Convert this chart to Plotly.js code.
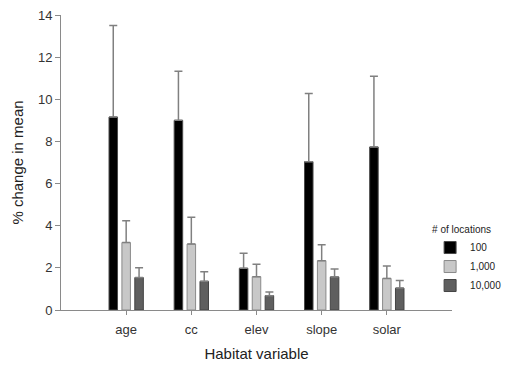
<!DOCTYPE html>
<html>
<head>
<meta charset="utf-8">
<script src="https://cdn.plot.ly/plotly-3.0.1.min.js"></script>
<style>html,body{margin:0;padding:0;background:#fff}#chart{width:519px;height:366px}</style>
</head>
<body>
<div id="chart"></div>
<script>
var categories = ["age", "cc", "elev", "slope", "solar"];
var seriesNames = ["100", "1,000", "10,000"];
var mean100 = [9.16, 9.0, 1.98, 7.04, 7.74];
var upper100 = [13.5, 11.33, 2.69, 10.27, 11.09];
var mean1000 = [3.2, 3.13, 1.58, 2.34, 1.5];
var upper1000 = [4.24, 4.4, 2.17, 3.1, 2.09];
var mean10000 = [1.54, 1.36, 0.68, 1.57, 1.04];
var upper10000 = [2.01, 1.82, 0.85, 1.95, 1.4];

var fills = ["#000000", "#c8c8c8", "#5f5f5f"];
var edges = ["#4a4a4a", "#8a8a8a", "#444444"];
var means = [mean100, mean1000, mean10000];
var uppers = [upper100, upper1000, upper10000];

var traces = means.map(function (m, i) {
  return {
    type: "bar",
    name: seriesNames[i],
    x: categories,
    y: m,
    marker: {color: fills[i], line: {color: edges[i], width: 1}},
    error_y: {
      type: "data",
      symmetric: false,
      array: uppers[i].map(function (u, j) { return u - m[j]; }),
      arrayminus: m.map(function () { return 0; }),
      color: "#808080",
      thickness: 1.5,
      width: 4
    }
  };
});

var layout = {
  width: 519, height: 366,
  margin: {l: 61, r: 46, t: 15, b: 56},
  paper_bgcolor: "#fff", plot_bgcolor: "#fff",
  font: {family: "Liberation Sans, Arial, sans-serif", color: "#222", size: 13},
  barmode: "group",
  bargap: 0.406,
  bargroupgap: 0.34,
  showlegend: true,
  legend: {
    x: 0.944, y: 0.305, xanchor: "left", yanchor: "top",
    font: {size: 10, color: "#222"},
    title: {text: "# of locations", font: {size: 10, color: "#222"}},
    tracegroupgap: 0, itemwidth: 30,
    bgcolor: "rgba(0,0,0,0)"
  },
  xaxis: {
    type: "category",
    range: [-1, 5],
    showline: true, linecolor: "#8a8a8a", linewidth: 1,
    ticks: "outside", ticklen: 4, tickcolor: "#8a8a8a",
    ticklabelstandoff: 3,
    showgrid: false, zeroline: false,
    tickfont: {size: 13, color: "#333"},
    title: {text: "Habitat variable", font: {size: 15, color: "#222"}, standoff: 12}
  },
  yaxis: {
    range: [0, 14],
    dtick: 2,
    showline: true, linecolor: "#8a8a8a", linewidth: 1,
    ticks: "outside", ticklen: 5, tickcolor: "#8a8a8a",
    showgrid: false, zeroline: false,
    tickfont: {size: 13, color: "#333"},
    title: {text: "% change in mean", font: {size: 15, color: "#222"}, standoff: 10}
  }
};

Plotly.newPlot("chart", traces, layout, {displayModeBar: false, staticPlot: true});
</script>
</body>
</html>
